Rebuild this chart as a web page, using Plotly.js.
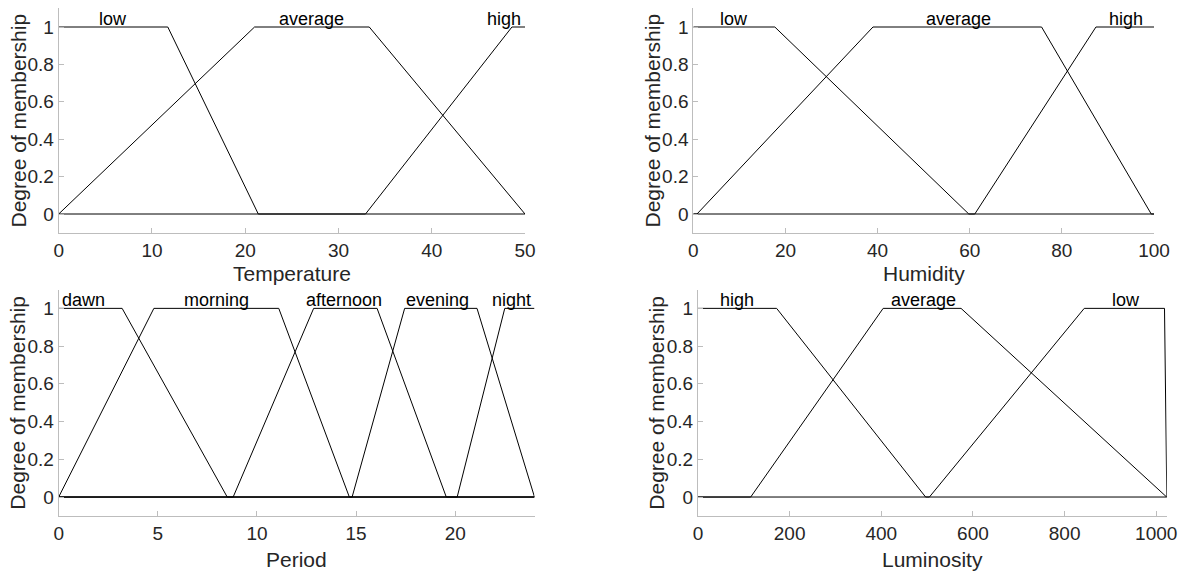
<!DOCTYPE html>
<html>
<head>
<meta charset="utf-8">
<script src="https://cdn.plot.ly/plotly-3.0.1.min.js"></script>
<style>html,body{margin:0;padding:0;background:#fff;}#chart{width:1184px;height:572px;}</style>
</head>
<body>
<div id="chart"></div>
<script>
// ---- Temperature (0..50) ----
const tempLowX = [0, 11.7, 21.4, 50];
const tempLowY = [1, 1, 0, 0];
const tempAvgX = [0, 21.0, 33.3, 50];
const tempAvgY = [0, 1, 1, 0];
const tempHighX = [0, 32.9, 48.6, 50];
const tempHighY = [0, 0, 1, 1];
const tempLabels = ["low", "average", "high"];
const tempLabelX = [5.8, 27.1, 47.7];

// ---- Humidity (0..100) ----
const humLowX = [0, 17.7, 59.8, 100];
const humLowY = [1, 1, 0, 0];
const humAvgX = [0, 0.8, 39.0, 75.6, 99.4, 100];
const humAvgY = [0, 0, 1, 1, 0, 0];
const humHighX = [0, 61.1, 87.4, 100];
const humHighY = [0, 0, 1, 1];
const humLabels = ["low", "average", "high"];
const humLabelX = [8.8, 57.5, 93.9];

// ---- Period (0..24) ----
const perDawnX = [0, 3.2, 8.5, 24];
const perDawnY = [1, 1, 0, 0];
const perMornX = [0, 4.8, 11.1, 14.66, 24];
const perMornY = [0, 1, 1, 0, 0];
const perAftX = [0, 8.8, 12.86, 16.06, 19.55, 24];
const perAftY = [0, 0, 1, 1, 0, 0];
const perEveX = [0, 14.8, 17.45, 21.1, 24];
const perEveY = [0, 0, 1, 1, 0];
const perNightX = [0, 20.1, 22.5, 24];
const perNightY = [0, 0, 1, 1];
const perLabels = ["dawn", "morning", "afternoon", "evening", "night"];
const perLabelX = [1.24, 7.94, 14.4, 19.1, 22.84];

// ---- Luminosity (0..1023) ----
const lumHighX = [0, 171.6, 496.7, 1023];
const lumHighY = [1, 1, 0, 0];
const lumAvgX = [0, 115, 404, 574, 1022.7, 1023];
const lumAvgY = [0, 0, 1, 1, 0, 0];
const lumLowX = [0, 505, 842.8, 1018, 1023];
const lumLowY = [0, 0, 1, 1, 0];
const lumLabels = ["high", "average", "low"];
const lumLabelX = [85.8, 491, 933];

// ---- axis definitions ----
const yTitle = "Degree of membership";
const xTitles = ["Temperature", "Humidity", "Period", "Luminosity"];
const yTickVals = [0, 0.2, 0.4, 0.6, 0.8, 1];
const yTickText = ["0", "0.2", "0.4", "0.6", "0.8", "1"];
const tempTicks = [0, 10, 20, 30, 40, 50];
const humTicks = [0, 20, 40, 60, 80, 100];
const perTicks = [0, 5, 10, 15, 20];
const lumTicks = [0, 200, 400, 600, 800, 1000];

const FONT = "Liberation Sans, Arial, Helvetica, sans-serif";
const W = 1184, H = 572;

function line(x, y, xa, ya) {
  return {x: x, y: y, xaxis: xa, yaxis: ya, type: 'scatter', mode: 'lines',
          line: {color: '#000000', width: 1}, hoverinfo: 'skip', showlegend: false};
}

const traces = [
  line(tempLowX, tempLowY, 'x', 'y'),
  line(tempAvgX, tempAvgY, 'x', 'y'),
  line(tempHighX, tempHighY, 'x', 'y'),
  line(humLowX, humLowY, 'x2', 'y2'),
  line(humAvgX, humAvgY, 'x2', 'y2'),
  line(humHighX, humHighY, 'x2', 'y2'),
  line(perDawnX, perDawnY, 'x3', 'y3'),
  line(perMornX, perMornY, 'x3', 'y3'),
  line(perAftX, perAftY, 'x3', 'y3'),
  line(perEveX, perEveY, 'x3', 'y3'),
  line(perNightX, perNightY, 'x3', 'y3'),
  line(lumHighX, lumHighY, 'x4', 'y4'),
  line(lumAvgX, lumAvgY, 'x4', 'y4'),
  line(lumLowX, lumLowY, 'x4', 'y4')
];

function xax(px0, px1, range, ticks, anchor) {
  return {
    domain: [px0 / W, px1 / W], range: range, anchor: anchor,
    tickmode: 'array', tickvals: ticks, ticktext: ticks.map(String),
    ticks: 'inside', ticklen: 5, tickwidth: 1, tickcolor: '#bdbdbd',
    showline: true, linecolor: '#bdbdbd', linewidth: 1, mirror: false,
    showgrid: false, zeroline: false,
    tickfont: {family: FONT, size: 19, color: '#262626'},
    automargin: false, fixedrange: true
  };
}
function yax(py0, py1, anchor) {
  return {
    domain: [1 - py1 / H, 1 - py0 / H], range: [-0.1, 1.1], anchor: anchor,
    tickmode: 'array', tickvals: yTickVals, ticktext: yTickText,
    ticks: 'inside', ticklen: 5, tickwidth: 1, tickcolor: '#bdbdbd',
    showline: true, linecolor: '#bdbdbd', linewidth: 1, mirror: false,
    showgrid: false, zeroline: false,
    tickfont: {family: FONT, size: 19, color: '#262626'},
    automargin: false, fixedrange: true
  };
}

const annotations = [];
function addLabels(labels, xs, xref, yref) {
  labels.forEach(function (t, i) {
    annotations.push({text: t, x: xs[i], y: 1, xref: xref, yref: yref,
      xanchor: 'center', yanchor: 'bottom', yshift: -4, showarrow: false,
      font: {family: FONT, size: 18, color: '#000000'}});
  });
}
addLabels(tempLabels, tempLabelX, 'x', 'y');
addLabels(humLabels, humLabelX, 'x2', 'y2');
addLabels(perLabels, perLabelX, 'x3', 'y3');
addLabels(lumLabels, lumLabelX, 'x4', 'y4');

// axis titles (placed in paper pixels)
const titleFont = {family: FONT, size: 21, color: '#262626'};
[[18, 120.5], [652, 120.5], [18, 402.7], [657, 402.7]].forEach(function (p) {
  annotations.push({text: yTitle, x: p[0] / W, y: 1 - p[1] / H, xref: 'paper', yref: 'paper',
    xanchor: 'center', yanchor: 'middle', textangle: -90, showarrow: false, font: titleFont});
});
[[291.8, 274], [923.6, 274], [296.6, 559], [932.4, 559]].forEach(function (p, i) {
  annotations.push({text: xTitles[i], x: p[0] / W, y: 1 - p[1] / H, xref: 'paper', yref: 'paper',
    xanchor: 'center', yanchor: 'middle', showarrow: false, font: titleFont});
});

const layout = {
  width: W, height: H,
  margin: {l: 0, r: 0, t: 0, b: 0},
  paper_bgcolor: '#ffffff', plot_bgcolor: '#ffffff',
  showlegend: false,
  xaxis: xax(58.7, 525, [0, 50], tempTicks, 'y'),
  yaxis: yax(8.3, 232.7, 'x'),
  xaxis2: xax(693.3, 1154, [0, 100], humTicks, 'y2'),
  yaxis2: yax(8.3, 232.7, 'x2'),
  xaxis3: xax(58.7, 534.5, [0, 24], perTicks, 'y3'),
  yaxis3: yax(289.5, 515.9, 'x3'),
  xaxis4: xax(698, 1166.8, [0, 1023], lumTicks, 'y4'),
  yaxis4: yax(289.5, 515.9, 'x4'),
  annotations: annotations
};

Plotly.newPlot('chart', traces, layout, {staticPlot: true, displayModeBar: false});
</script>
</body>
</html>
